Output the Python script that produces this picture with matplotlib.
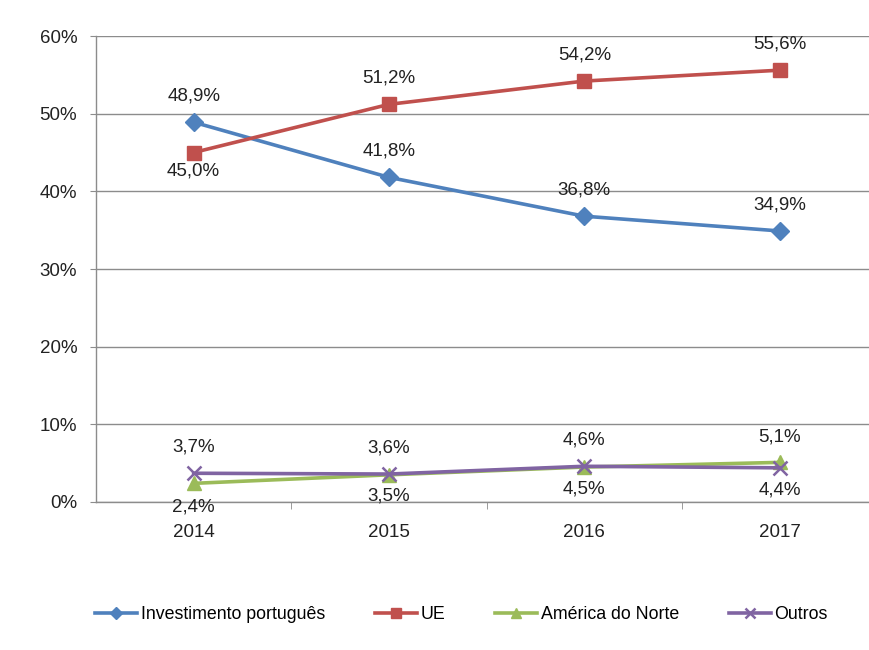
import matplotlib
matplotlib.use("Agg")
import matplotlib.pyplot as plt
from matplotlib.ticker import FixedLocator, FuncFormatter

years = ["2014", "2015", "2016", "2017"]
investimento = [48.9, 41.8, 36.8, 34.9]
ue = [45.0, 51.2, 54.2, 55.6]
america = [2.4, 3.5, 4.5, 5.1]
outros = [3.7, 3.6, 4.6, 4.4]

# label offset per point, in points (positive = above the marker)
off_inv = [19, 19, 19, 19]
off_ue = [-13, 19, 19, 19]
off_am = [-17, -15, -16, 18]
off_out = [19, 19, 19, -16]

plt.rcParams['font.family'] = ['Liberation Sans', 'DejaVu Sans']

fig = plt.figure(figsize=(8.69, 6.5), dpi=100)
ax = fig.add_axes([0.1105, 0.2277, 0.899, 0.7169])

x = list(range(len(years)))
series = [
    ("Investimento português", investimento, "#4F81BD", "D", 9, off_inv),
    ("UE", ue, "#C0504D", "s", 10, off_ue),
    ("América do Norte", america, "#9BBB59", "^", 10, off_am),
    ("Outros", outros, "#8064A2", "x", 10, off_out),
]

for name, vals, col, mk, ms, offs in series:
    kw = dict(markeredgewidth=1.8) if mk == "x" else dict(markeredgecolor=col)
    ax.plot(x, vals, color=col, linewidth=2.6, marker=mk, markersize=ms,
            markerfacecolor=col, label=name, zorder=3, **kw)
    for xi, v, o in zip(x, vals, offs):
        ax.annotate(f"{v:.1f}%".replace(".", ","), (xi, v),
                    xytext=(0, o), textcoords="offset points",
                    ha="center", va="center", fontsize=13.5, color="#222222")

ax.set_xlim(-0.5, len(years) - 0.5)
ax.set_ylim(0, 60)
ax.set_yticks(range(0, 61, 10))
ax.yaxis.set_major_formatter(FuncFormatter(lambda v, _: f"{int(v)}%"))
ax.set_xticks(x)
ax.set_xticklabels(years)
ax.xaxis.set_minor_locator(FixedLocator([i + 0.5 for i in x[:-1]]))
ax.grid(axis="y", color="#8C8C8C", linewidth=1)
ax.set_axisbelow(True)

for s in ["top", "right"]:
    ax.spines[s].set_visible(False)
for s in ["left", "bottom"]:
    ax.spines[s].set_color("#8C8C8C")
    ax.spines[s].set_linewidth(1)

ax.tick_params(axis="y", length=4.5, color="#8C8C8C", labelsize=13.5, pad=9,
               labelcolor="#222222")
ax.tick_params(axis="x", which="major", length=0, labelsize=13.5, pad=16,
               labelcolor="#222222")
ax.tick_params(axis="x", which="minor", length=5, color="#8C8C8C")

fig.legend(loc="center", bbox_to_anchor=(0.531, 0.055), ncol=4, frameon=False,
           fontsize=12.8, handlelength=2.36, handletextpad=0.2, columnspacing=2.8,
           markerscale=0.7)

fig.savefig("out.png", dpi=100)
